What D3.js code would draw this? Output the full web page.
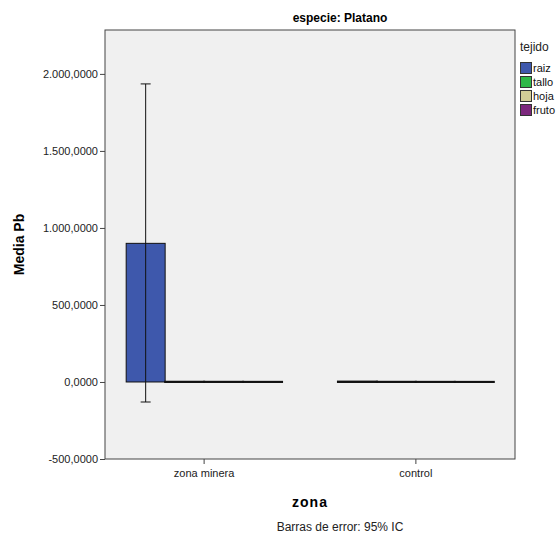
<!DOCTYPE html>
<html>
<head>
<meta charset="utf-8">
<script src="https://cdn.jsdelivr.net/npm/d3@7"></script>
<style>
  body { margin: 0; background: #fff; }
  text { font-family: "Liberation Sans", Arial, sans-serif; }
</style>
</head>
<body>
<div id="chart"></div>
<script>
const zonas = ["zona minera", "control"];
const tejidos = ["raiz", "tallo", "hoja", "fruto"];
const colores = ["#3e58ac", "#2eb848", "#d3ce97", "#7c287d"];
// media Pb por zona (filas) y tejido (columnas)
const medias = [
  [900, 1.5, 1.2, 0.9],
  [2.5, 1.2, 0.9, 0.7]
];
// intervalo de confianza 95%
const icBajo = [
  [-130, 1.4, 1.1, 0.8],
  [2.4, 1.1, 0.8, 0.6]
];
const icAlto = [
  [1935, 1.6, 1.3, 1.0],
  [2.6, 1.3, 1.0, 0.8]
];
const yTicks = [-500, 0, 500, 1000, 1500, 2000];

const width = 559, height = 542;
const mLeft = 105, mRight = 515, mTop = 30, mBottom = 459;

const svg = d3.select("#chart").append("svg")
  .attr("width", width).attr("height", height);

const x0 = d3.scaleBand().domain(zonas).range([mLeft, mRight])
  .paddingInner(0.264).paddingOuter(0.1);
const x1 = d3.scaleBand().domain(tejidos).range([0, x0.bandwidth()]);
const y = d3.scaleLinear().domain([-500, 2285]).range([mBottom, mTop]);

// fondo del area de grafico
svg.append("rect")
  .attr("x", mLeft).attr("y", mTop)
  .attr("width", mRight - mLeft).attr("height", mBottom - mTop)
  .attr("fill", "#f0f0f0").attr("stroke", "#444").attr("stroke-width", 1);

const fmt = v => {
  const s = d3.format(",.4f")(v);
  return s.replace(/,/g, "#").replace(".", ",").replace(/#/g, ".").replace("−", "-");
};

// ejes
svg.append("g")
  .attr("transform", `translate(${mLeft},0)`)
  .call(d3.axisLeft(y).tickValues(yTicks).tickSize(5).tickFormat(fmt))
  .call(g => g.select(".domain").remove())
  .call(g => g.selectAll("line").attr("stroke", "#444"))
  .call(g => g.selectAll("text").attr("font-size", 11).attr("fill", "#222").attr("dx", 1));

svg.append("g")
  .attr("transform", `translate(0,${mBottom})`)
  .call(d3.axisBottom(x0).tickSize(5))
  .call(g => g.select(".domain").remove())
  .call(g => g.selectAll("line").attr("stroke", "#444"))
  .call(g => g.selectAll("text").attr("font-size", 11).attr("fill", "#222").attr("dy", "0.9em"));

// barras
const grupos = svg.selectAll(".grupo").data(zonas).enter().append("g")
  .attr("transform", d => `translate(${x0(d)},0)`);

grupos.each(function (z, i) {
  const g = d3.select(this);
  tejidos.forEach((t, j) => {
    const v = medias[i][j];
    g.append("rect")
      .attr("x", x1(t)).attr("width", x1.bandwidth())
      .attr("y", Math.min(y(v), y(0)))
      .attr("height", Math.abs(y(0) - y(v)))
      .attr("fill", colores[j])
      .attr("stroke", "#111").attr("stroke-width", v > 20 ? 1 : 2);
    const cx = x1(t) + x1.bandwidth() / 2;
    if (icAlto[i][j] - icBajo[i][j] > 20) {
      g.append("line").attr("x1", cx).attr("x2", cx)
        .attr("y1", y(icAlto[i][j])).attr("y2", y(icBajo[i][j]))
        .attr("stroke", "#111");
      [icAlto[i][j], icBajo[i][j]].forEach(e => {
        g.append("line").attr("x1", cx - 5).attr("x2", cx + 5)
          .attr("y1", y(e)).attr("y2", y(e)).attr("stroke", "#111");
      });
    }
  });
});

// titulos
svg.append("text").attr("x", 340).attr("y", 22).attr("text-anchor", "middle")
  .attr("font-size", 12).attr("font-weight", "bold").text("especie: Platano");

svg.append("text").attr("transform", `translate(24,${(mTop + mBottom) / 2}) rotate(-90)`)
  .attr("text-anchor", "middle").attr("font-size", 14).attr("font-weight", "bold")
  .text("Media Pb");

svg.append("text").attr("x", 310).attr("y", 507).attr("text-anchor", "middle")
  .attr("font-size", 14).attr("font-weight", "bold").attr("letter-spacing", 1).text("zona");

svg.append("text").attr("x", 340).attr("y", 531).attr("text-anchor", "middle")
  .attr("font-size", 12).attr("fill", "#222").text("Barras de error: 95% IC");

// leyenda
const ley = svg.append("g").attr("transform", "translate(520,0)");
ley.append("text").attr("x", 0).attr("y", 51).attr("font-size", 12).attr("fill", "#222").text("tejido");
tejidos.forEach((t, j) => {
  ley.append("rect").attr("x", 0.5).attr("y", 62.5 + j * 14)
    .attr("width", 11).attr("height", 11)
    .attr("fill", colores[j]).attr("stroke", "#333");
  ley.append("text").attr("x", 13).attr("y", 72 + j * 14)
    .attr("font-size", 11).attr("fill", "#111").text(t);
});
</script>
</body>
</html>
